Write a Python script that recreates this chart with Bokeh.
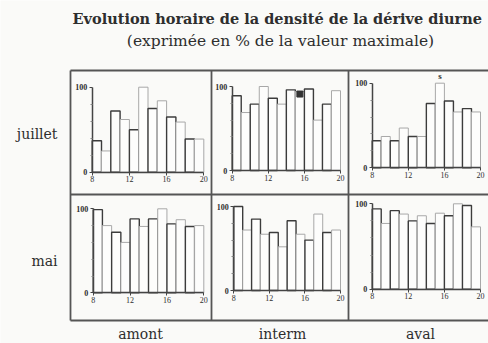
from bokeh.plotting import figure
from bokeh.models import Range1d, LinearAxis, FixedTicker, ColumnDataSource
from bokeh.core.properties import value
from bokeh.embed import file_html
from bokeh.resources import INLINE

# ---- data ----
hours = list(range(8, 20))          # start hour of each one-hour bar
tick_hours = [8, 12, 16, 20]
amont_juillet = [37, 25, 72, 62, 50, 100, 75, 84, 65, 59, 39, 39]
interm_juillet = [89, 69, 79, 100, 86, 79, 96, 94, 97, 60, 79, 95]
aval_juillet = [32, 37, 32, 47, 37, 37, 76, 100, 79, 66, 70, 66]
amont_mai = [99, 80, 72, 60, 88, 79, 88, 100, 82, 87, 79, 80]
interm_mai = [100, 72, 85, 67, 69, 52, 83, 67, 60, 91, 69, 72]
aval_mai = [94, 77, 92, 88, 80, 86, 77, 89, 86, 100, 98, 73]

title1 = "Evolution horaire de la densité de la dérive diurne"
title2 = "(exprimée en % de la valeur maximale)"
row_labels = ["juillet", "mai"]
col_labels = ["amont", "interm", "aval"]

# ---- layout (canvas pixels) ----
W, H = 488, 343
FONT = value("Liberation Serif")
TFONT = value("DejaVu Serif")
INK = "#2e2e2e"

# panel geometry: hour-8 x, hour-20 x, baseline y, 100% y
geom = [
    (91.7, 203.3, 171.7, 86.7),
    (231.7, 340.0, 170.0, 86.0),
    (371.7, 480.0, 167.3, 82.7),
    (92.7, 203.3, 292.3, 208.3),
    (233.3, 340.0, 290.0, 206.0),
    (371.7, 480.0, 288.7, 203.3),
]
series = [amont_juillet, interm_juillet, aval_juillet, amont_mai, interm_mai, aval_mai]

p = figure(width=W, height=H, x_range=Range1d(0, W), y_range=Range1d(H, 0),
           x_axis_type=None, y_axis_type=None, toolbar_location=None,
           output_backend="svg", min_border=0, outline_line_color=None,
           background_fill_color="#fafaf8", border_fill_color="#fafaf8")

# outer frame and dividers
p.segment(x0=[70, 70, 70, 70, 211, 348], y0=[70, 320, 194, 70, 70, 70],
          x1=[488, 488, 488, 70, 211, 348], y1=[70, 320, 194, 320, 320, 320],
          line_color="#555555", line_width=1.8)

dark_light = ["#3c3c3c" if i % 2 == 0 else "#a8a8a8" for i in range(len(hours))]
widths = [1.4 if i % 2 == 0 else 1.0 for i in range(len(hours))]

for k, ((a, b, base, top), vals) in enumerate(zip(geom, series)):
    xs = 12.0 / (b - a)
    ys = 100.0 / (base - top)
    xn, yn = f"x{k}", f"y{k}"
    p.extra_x_ranges[xn] = Range1d(8 - a * xs, 8 + (W - a) * xs)
    p.extra_y_ranges[yn] = Range1d((base - H) * ys, base * ys)
    src = ColumnDataSource(dict(left=hours, right=[h + 1 for h in hours], top=vals,
                                lc=dark_light, lw=widths))
    p.quad(left="left", right="right", bottom=0, top="top", source=src,
           x_range_name=xn, y_range_name=yn, fill_color="#fdfdfc",
           line_color="lc", line_width="lw")
    xa = LinearAxis(x_range_name=xn, y_range_name=yn, fixed_location=0, bounds=(8, 20),
                    ticker=FixedTicker(ticks=tick_hours), axis_line_color="#444",
                    axis_line_width=1.5, major_tick_in=0, major_tick_out=3,
                    major_tick_line_color="#444", minor_tick_out=0,
                    major_label_text_font_size="8px", major_label_text_font="Liberation Serif",
                    major_label_text_color=INK, major_label_standoff=1)
    p.add_layout(xa, "below")
    ya = LinearAxis(x_range_name=xn, y_range_name=yn, fixed_location=8, bounds=(0, 100),
                    ticker=FixedTicker(ticks=[0, 100], minor_ticks=[20, 40, 60, 80]),
                    axis_line_color="#444", axis_line_width=1.5, major_tick_in=0,
                    major_tick_out=3, minor_tick_out=2, minor_tick_in=0,
                    minor_tick_line_color="#888", major_tick_line_color="#444",
                    major_label_text_font_size="8px", major_label_text_font="Liberation Serif",
                    major_label_text_color=INK, major_label_standoff=2,
                    major_label_text_font_style="bold")
    p.add_layout(ya, "left")
    if k == 1:
        p.scatter(x=[15.5], y=[91], marker="square", size=6, color="#333",
                  x_range_name=xn, y_range_name=yn)
    if k == 2:
        p.text(x=[15.5], y=[103], text=["s"], x_range_name=xn, y_range_name=yn,
               text_font=FONT, text_font_size="9px", text_align="center",
               text_baseline="bottom", text_color=INK, text_font_style="bold")

# titles
p.text(x=[72], y=[18], text=[title1], text_font=TFONT, text_font_size="14.5px",
       text_font_style="bold", text_align="left", text_baseline="middle", text_color=INK)
p.text(x=[280], y=[40], text=[title2], text_font=TFONT, text_font_size="15.5px",
       text_align="center", text_baseline="middle", text_color=INK)
# row labels
p.text(x=[57, 57], y=[133, 260], text=row_labels, text_font=TFONT, text_font_size="14px",
       text_align="right", text_baseline="middle", text_color=INK)
# column labels
p.text(x=[140, 282, 420], y=[333, 333, 333], text=col_labels, text_font=TFONT,
       text_font_size="14px", text_align="center", text_baseline="middle", text_color=INK)

open("out.html", "w").write(file_html(p, INLINE))
